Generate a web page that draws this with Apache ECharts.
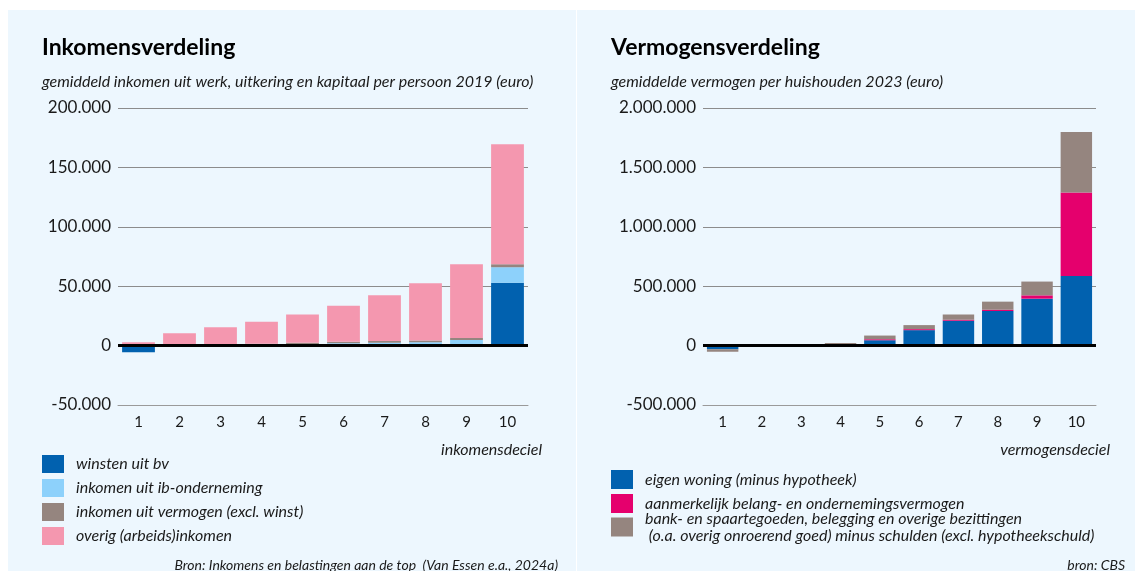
<!DOCTYPE html>
<html>
<head>
<meta charset="utf-8">
<script src="https://cdn.jsdelivr.net/npm/echarts@6/dist/echarts.min.js"></script>
<style>
  html, body { margin: 0; padding: 0; background: #fff; }
  #chart { width: 1135px; height: 571px; }
</style>
</head>
<body>
<div id="chart"></div>
<script>
// deciles
const categories = ['1', '2', '3', '4', '5', '6', '7', '8', '9', '10']

// Inkomensverdeling (euro per persoon, 2019)
const winstenBv = [-5700, 0, 0, 0, 0, 0, 0, 0, 0, 53000]
const ibOnderneming = [0, 0, 0, 300, 1000, 2000, 2500, 2800, 4800, 13000]
const vermogenInkomen = [0, 200, 600, 1200, 1500, 1200, 1400, 1500, 1700, 2500]
const overigInkomen = [2800, 10200, 14900, 18500, 23700, 30300, 38400, 48200, 62000, 101000]

// Vermogensverdeling (euro per huishouden, 2023)
const eigenWoning = [-31000, 0, 0, 0, 45000, 130000, 209000, 291000, 395000, 585000]
const aanmerkelijkBelang = [0, 0, 0, 0, 8500, 8500, 8500, 11000, 28000, 703000]
const bankSpaar = [-20000, 0, 0, 22600, 31000, 34000, 45000, 68000, 116000, 510000]

const incomeTicks = { min: -50000, max: 200000, interval: 50000 }
const wealthTicks = { min: -500000, max: 2000000, interval: 500000 }

const FONT = 'Lato'
const TEXT = '#1a1a1a'

function dots(v) {
  const s = String(Math.abs(v)).replace(/\B(?=(\d{3})+(?!\d))/g, '.')
  return (v < 0 ? '-' : '') + s
}

function xAxisFor(gridIndex) {
  return {
    type: 'category',
    gridIndex: gridIndex,
    data: categories,
    position: 'bottom',
    axisLine: { onZero: false, lineStyle: { color: '#9a9a9a', width: 1 } },
    axisTick: { alignWithLabel: true, length: 6, lineStyle: { color: '#777' } },
    axisLabel: { margin: 10, fontFamily: FONT, fontSize: 15, color: TEXT }
  }
}

function yAxisFor(gridIndex, ticks) {
  return {
    type: 'value',
    gridIndex: gridIndex,
    min: ticks.min,
    max: ticks.max,
    interval: ticks.interval,
    axisLine: { show: false },
    axisTick: { show: false },
    axisLabel: { margin: 7, fontFamily: FONT, fontSize: 17, color: TEXT, formatter: dots },
    splitLine: { lineStyle: { color: '#8c8c8c', width: 1 } }
  }
}

const zeroLine = {
  silent: true,
  symbol: ['none', 'none'],
  label: { show: false },
  lineStyle: { color: '#000', width: 3, type: 'solid' },
  data: [{ yAxis: 0 }]
}

function bar(name, data, color, axis, stack, withZero) {
  const s = {
    name: name,
    type: 'bar',
    xAxisIndex: axis,
    yAxisIndex: axis,
    stack: stack,
    barWidth: '80%',
    data: data,
    itemStyle: { color: color },
    animation: false
  }
  if (withZero) s.markLine = zeroLine
  return s
}

const italic = { fontFamily: FONT, fontStyle: 'italic', fontWeight: 'normal', color: TEXT }
const legendText = Object.assign({}, italic, { fontSize: 16, padding: [0, 0, 0, 7] })

const chart = echarts.init(document.getElementById('chart'))
chart.setOption({
  backgroundColor: '#fff',
  animation: false,
  graphic: [
    { type: 'rect', z: -10, silent: true, shape: { x: 8, y: 10, width: 568, height: 561 }, style: { fill: '#EDF7FE' } },
    { type: 'rect', z: -10, silent: true, shape: { x: 577, y: 10, width: 558, height: 561 }, style: { fill: '#EDF7FE' } }
  ],
  title: [
    { text: 'Inkomensverdeling', left: 42, top: 36, padding: 0, textStyle: { fontFamily: FONT, fontWeight: 'bold', fontSize: 23, color: '#000' } },
    { text: 'gemiddeld inkomen uit werk, uitkering en kapitaal per persoon 2019 (euro)', left: 42, top: 74, padding: 0,
      textStyle: Object.assign({}, italic, { fontSize: 16 }) },
    { text: 'inkomensdeciel', right: 1135 - 542, top: 442, padding: 0,
      textStyle: Object.assign({}, italic, { fontSize: 16 }) },
    { text: 'Bron: Inkomens en belastingen aan de top  (Van Essen e.a., 2024a)', right: 1135 - 558, top: 558, padding: 0,
      textStyle: Object.assign({}, italic, { fontSize: 14 }) },
    { text: 'Vermogensverdeling', left: 611, top: 36, padding: 0, textStyle: { fontFamily: FONT, fontWeight: 'bold', fontSize: 23, color: '#000' } },
    { text: 'gemiddelde vermogen per huishouden 2023 (euro)', left: 611, top: 74, padding: 0,
      textStyle: Object.assign({}, italic, { fontSize: 16 }) },
    { text: 'vermogensdeciel', right: 1135 - 1110, top: 442, padding: 0,
      textStyle: Object.assign({}, italic, { fontSize: 16 }) },
    { text: 'bron: CBS', right: 1135 - 1125, top: 558, padding: 0,
      textStyle: Object.assign({}, italic, { fontSize: 14 }) }
  ],
  legend: [
    {
      orient: 'vertical', left: 42, top: 455, padding: 0, itemGap: 6, itemWidth: 22, itemHeight: 18,
      icon: 'rect', selectedMode: false, textStyle: legendText,
      data: ['winsten uit bv', 'inkomen uit ib-onderneming', 'inkomen uit vermogen (excl. winst)', 'overig (arbeids)inkomen']
    },
    {
      orient: 'vertical', left: 611, top: 470, padding: 0, itemGap: 5, itemWidth: 22, itemHeight: 19,
      icon: 'rect', selectedMode: false, textStyle: legendText,
      data: ['eigen woning (minus hypotheek)', 'aanmerkelijk belang- en ondernemingsvermogen']
    },
    {
      orient: 'vertical', left: 611, top: 510, padding: 0, itemWidth: 22, itemHeight: 19,
      icon: 'rect', selectedMode: false, textStyle: Object.assign({}, legendText, { lineHeight: 17 }),
      data: ['bank- en spaartegoeden, belegging en overige bezittingen\n (o.a. overig onroerend goed) minus schulden (excl. hypotheekschuld)']
    }
  ],
  grid: [
    { left: 118, top: 108, width: 410, height: 297 },
    { left: 703, top: 108, width: 393, height: 297 }
  ],
  xAxis: [xAxisFor(0), xAxisFor(1)],
  yAxis: [yAxisFor(0, incomeTicks), yAxisFor(1, wealthTicks)],
  series: [
    bar('winsten uit bv', winstenBv, '#0161AF', 0, 'inkomen', false),
    bar('inkomen uit ib-onderneming', ibOnderneming, '#8DD1FB', 0, 'inkomen', false),
    bar('inkomen uit vermogen (excl. winst)', vermogenInkomen, '#95857F', 0, 'inkomen', false),
    bar('overig (arbeids)inkomen', overigInkomen, '#F497AF', 0, 'inkomen', true),
    bar('eigen woning (minus hypotheek)', eigenWoning, '#0161AF', 1, 'vermogen', false),
    bar('aanmerkelijk belang- en ondernemingsvermogen', aanmerkelijkBelang, '#E5006D', 1, 'vermogen', false),
    bar('bank- en spaartegoeden, belegging en overige bezittingen\n (o.a. overig onroerend goed) minus schulden (excl. hypotheekschuld)', bankSpaar, '#95857F', 1, 'vermogen', true)
  ]
})
</script>
</body>
</html>
